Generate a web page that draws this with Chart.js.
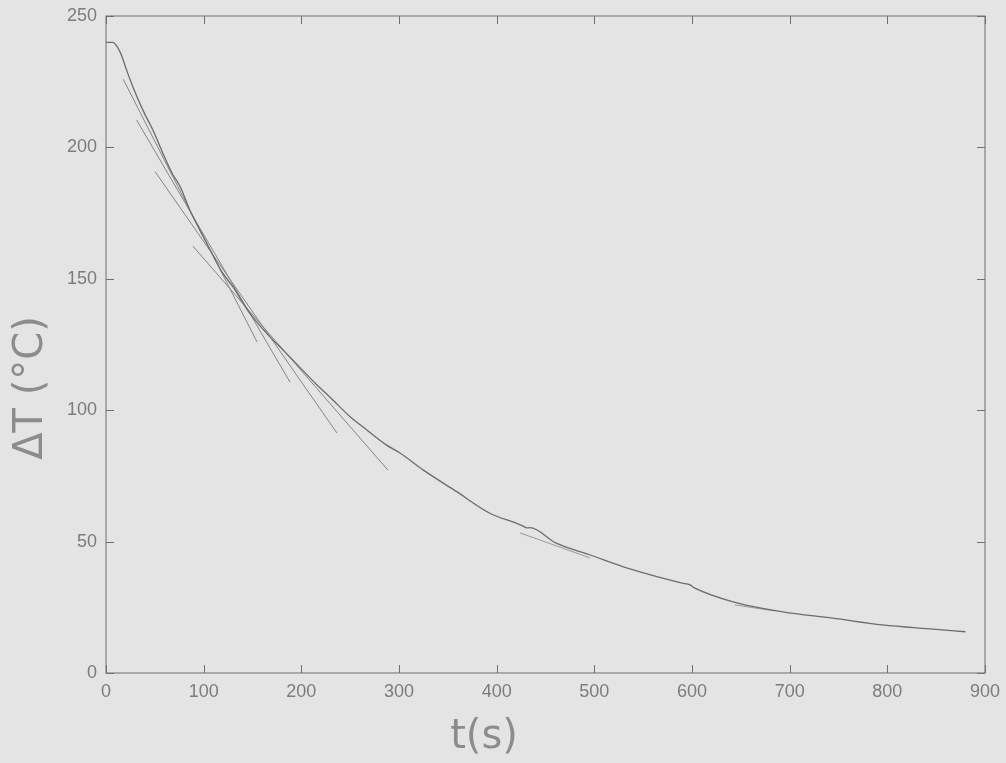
<!DOCTYPE html>
<html>
<head>
<meta charset="utf-8">
<script src="https://cdn.jsdelivr.net/npm/chart.js@4.4.1/dist/chart.umd.min.js"></script>
<style>
  html, body { margin: 0; padding: 0; background: #e4e4e4; }
  #wrap { width: 1006px; height: 763px; }
</style>
</head>
<body>
<div id="wrap"><canvas id="grafico"></canvas></div>
<script>
// Cooling curve ΔT(t)
const tempoS = [0, 7, 12, 16, 21, 28, 38, 48, 58, 68, 76, 86, 96, 108, 118, 130, 147, 164, 181, 198, 215, 232, 250, 267, 287, 301, 325, 359, 393, 420, 427, 431, 434, 461, 495, 529, 564, 590, 598, 602, 642, 693, 744, 795, 847, 880];
const deltaT = [240, 240, 238, 235, 229.5, 222.6, 214, 206.6, 198, 190, 185, 176, 168.6, 160, 153, 146.9, 137, 129.4, 123, 116.5, 110, 104, 97.5, 92.5, 86.8, 83.7, 77.2, 69, 60.8, 57, 55.9, 55.2, 55.3, 49.4, 45, 40.5, 36.7, 34.2, 33.5, 32.5, 27.1, 23.3, 20.9, 18.3, 16.7, 15.7];

// Tangent lines (start / end)
const tangIniT = [17.7, 31.4, 50.2, 88.8, 424, 644];
const tangIniY = [225.9, 210.4, 190.8, 162.5, 53.3, 25.9];
const tangFimT = [154.6, 188.4, 236.5, 288.7, 495.5, 685];
const tangFimY = [126, 110.7, 91.3, 77.2, 43.8, 23.6];

// Axis ticks
const ticksX = [0, 100, 200, 300, 400, 500, 600, 700, 800, 900];
const ticksY = [0, 50, 100, 150, 200, 250];

const corLinha = '#6c6c6c';
const corTang = '#858585';
const corEixo = '#6f6f6f';
const corTexto = '#7c7c7c';

const datasets = [{
    label: 'ΔT',
    data: tempoS.map((t, i) => ({ x: t, y: deltaT[i] })),
    borderColor: corLinha,
    borderWidth: 1.3,
    pointRadius: 0,
    cubicInterpolationMode: 'monotone',
    fill: false
}];
tangIniT.forEach((t, i) => {
    datasets.push({
        label: 'tangente ' + (i + 1),
        data: [{ x: t, y: tangIniY[i] }, { x: tangFimT[i], y: tangFimY[i] }],
        borderColor: corTang,
        borderWidth: i < 4 ? 1 : 0.8,
        pointRadius: 0,
        fill: false
    });
});

// background, inward ticks on all four sides, handwritten-style titles
const enfeites = {
    id: 'enfeites',
    beforeDraw(chart) {
        const ctx = chart.ctx;
        ctx.save();
        ctx.fillStyle = '#e4e4e4';
        ctx.fillRect(0, 0, chart.width, chart.height);
        ctx.restore();
    },
    afterDraw(chart) {
        const ctx = chart.ctx;
        const a = chart.chartArea;
        const sx = chart.scales.x, sy = chart.scales.y;
        const len = 8;
        ctx.save();
        ctx.strokeStyle = corEixo;
        ctx.lineWidth = 1;
        ctx.strokeRect(a.left, a.top, a.right - a.left, a.bottom - a.top);
        ctx.beginPath();
        ticksX.forEach(v => {
            const px = Math.round(sx.getPixelForValue(v)) + 0.5;
            ctx.moveTo(px, a.bottom); ctx.lineTo(px, a.bottom - len);
            ctx.moveTo(px, a.top); ctx.lineTo(px, a.top + len);
        });
        ticksY.forEach(v => {
            const py = Math.round(sy.getPixelForValue(v)) + 0.5;
            ctx.moveTo(a.left, py); ctx.lineTo(a.left + len, py);
            ctx.moveTo(a.right, py); ctx.lineTo(a.right - len, py);
        });
        ctx.stroke();

        ctx.fillStyle = '#8c8c8c';
        ctx.textAlign = 'center';
        ctx.textBaseline = 'middle';
        ctx.font = '40px "DejaVu Sans"';
        ctx.fillText('t(s)', 484, 738);
        ctx.translate(32, 388);
        ctx.rotate(-Math.PI / 2);
        ctx.fillText('ΔT (°C)', 0, 0);
        ctx.restore();
    }
};

new Chart(document.getElementById('grafico').getContext('2d'), {
    type: 'line',
    data: { datasets },
    options: {
        responsive: true,
        maintainAspectRatio: false,
        animation: false,
        layout: { padding: { top: 16, right: 21, left: 0, bottom: 0 } },
        plugins: {
            legend: { display: false },
            tooltip: { enabled: false }
        },
        scales: {
            x: {
                type: 'linear',
                min: 0,
                max: 900,
                afterBuildTicks: s => { s.ticks = ticksX.map(v => ({ value: v })); },
                afterFit: s => { s.height = 90; },
                grid: { display: false },
                border: { display: false },
                ticks: { color: corTexto, padding: 0, font: { family: '"Liberation Sans"', size: 18 } }
            },
            y: {
                type: 'linear',
                min: 0,
                max: 250,
                afterBuildTicks: s => { s.ticks = ticksY.map(v => ({ value: v })); },
                afterFit: s => { s.width = 106; },
                grid: { display: false },
                border: { display: false },
                ticks: { color: corTexto, padding: 1, font: { family: '"Liberation Sans"', size: 18 } }
            }
        }
    },
    plugins: [enfeites]
});
</script>
</body>
</html>
